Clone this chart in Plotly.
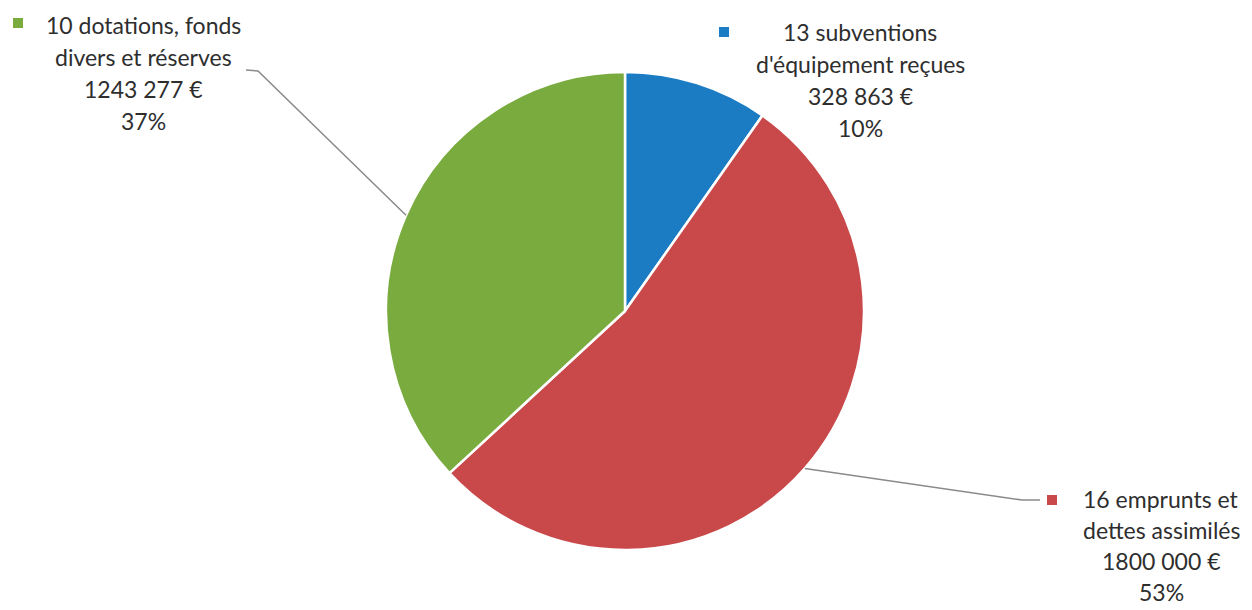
import math
import plotly.graph_objects as go

# Investment receipts by account
labels = [
    "13 subventions d'équipement reçues",
    "16 emprunts et dettes assimilés",
    "10 dotations, fonds divers et réserves",
]
label_lines = [
    ["13 subventions", "d'équipement reçues"],
    ["16 emprunts et", "dettes assimilés"],
    ["10 dotations, fonds", "divers et réserves"],
]
values = [328863, 1800000, 1243277]
value_text = ["328 863 €", "1800 000 €", "1243 277 €"]
colors = ["#1b7cc4", "#c9494b", "#79ab3f"]

W, H = 1252, 610
CX, CY, R = 625, 311, 239          # pie centre and radius, px
FONT = dict(family="Lato, 'Open Sans', sans-serif", size=23, color="#2e2e2e")
LINE_COLOR = "#8a8a8a"


def px(x, y):
    return x / W, 1 - y / H


total = sum(values)
pcts = [round(v / total * 100) for v in values]

fig = go.Figure(
    go.Pie(
        labels=labels,
        values=values,
        sort=False,
        direction="clockwise",
        rotation=0,
        marker=dict(colors=colors, line=dict(color="white", width=2.5)),
        textinfo="none",
        hoverinfo="label+value+percent",
        showlegend=False,
        domain=dict(x=[(CX - R) / W, (CX + R) / W], y=[1 - (CY + R) / H, 1 - (CY - R) / H]),
    )
)

# label blocks: centre x, first line y, line step, legend-key position (px)
blocks = [
    dict(cx=860, y0=32, step=32, key=(724, 32), leader=None),
    dict(cx=1161, y0=499, step=31, key=(1052, 500), leader=[(1022, 500), (1040, 500)]),
    dict(cx=143, y0=25, step=32, key=(18, 23), leader=[(258, 71), (246, 70)]),
]

annotations = []
shapes = []
start = 0.0
for i, b in enumerate(blocks):
    lines = label_lines[i] + [value_text[i], f"{pcts[i]}%"]
    for k, t in enumerate(lines):
        x, y = px(b["cx"], b["y0"] + k * b["step"])
        annotations.append(dict(x=x, y=y, xref="paper", yref="paper", text=t, borderpad=0,
                                showarrow=False, xanchor="center", yanchor="middle", font=FONT))
    kx, ky = b["key"]
    x0, y0 = px(kx - 5, ky - 5)
    x1, y1 = px(kx + 5, ky + 5)
    shapes.append(dict(type="rect", xref="paper", yref="paper", x0=x0, y0=y0, x1=x1, y1=y1,
                       fillcolor=colors[i], line=dict(width=0)))
    frac = values[i] / total
    mid = 2 * math.pi * (start + frac / 2)
    start += frac
    if b["leader"]:
        ex, ey = CX + R * math.sin(mid), CY - R * math.cos(mid)
        pts = [(ex, ey)] + b["leader"]
        path = " ".join(("M" if j == 0 else "L") + " {:.5f},{:.5f}".format(*px(*p)) for j, p in enumerate(pts))
        shapes.append(dict(type="path", xref="paper", yref="paper", path=path,
                           line=dict(color=LINE_COLOR, width=1.5)))

fig.update_layout(
    width=W,
    height=H,
    margin=dict(l=0, r=0, t=0, b=0),
    paper_bgcolor="white",
    plot_bgcolor="white",
    annotations=annotations,
    shapes=shapes,
)

fig.write_html("out.html")
